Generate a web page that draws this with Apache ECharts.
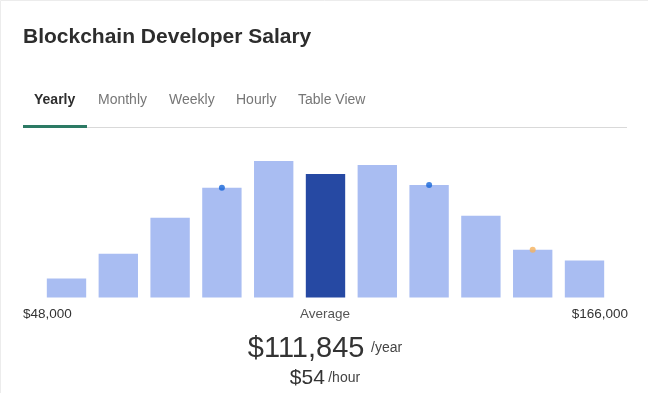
<!DOCTYPE html>
<html>
<head>
<meta charset="utf-8">
<script src="https://cdn.jsdelivr.net/npm/echarts@6/dist/echarts.min.js"></script>
<style>
html,body{margin:0;padding:0;background:#fff;}
#c{width:648px;height:393px;}
</style>
</head>
<body>
<div id="c"></div>
<script>
const categories = ['b1','b2','b3','b4','b5','b6','b7','b8','b9','b10','b11'];
const barValues = [19, 44, 80, 110, 137, 124, 133, 113, 82, 48, 37];
const averageIndex = 5;
const blueMarkers = [null, null, null, 110, null, null, null, 113, null, null, null];
const orangeMarkers = [null, null, null, null, null, null, null, null, null, 48, null];
const tabs = ['Yearly', 'Monthly', 'Weekly', 'Hourly', 'Table View'];
const tabX = [34, 98, 169, 236, 298];
const minLabel = '$48,000';
const maxLabel = '$166,000';
const avgYear = '$111,845';
const avgHour = '$54';

const FONT = '"Liberation Sans", Arial, sans-serif';
const chart = echarts.init(document.getElementById('c'), null, {renderer: 'canvas'});

const graphics = [
  {type: 'rect', shape: {x: 0.5, y: 0.5, width: 660, height: 400}, style: {fill: 'none', stroke: '#ececec', lineWidth: 1}, silent: true},
  {type: 'text', left: 23, top: 27, style: {text: 'Blockchain Developer Salary', font: 'bold 21px ' + FONT, fill: '#2d2d2d'}},
  {type: 'rect', shape: {x: 87, y: 127, width: 540, height: 1}, style: {fill: '#d9d9d9'}},
  {type: 'rect', shape: {x: 23, y: 125, width: 64, height: 3}, style: {fill: '#2c7a64'}},
  {type: 'text', left: 23, top: 307, style: {text: minLabel, font: '13.5px ' + FONT, fill: '#333'}},
  {type: 'text', right: 20, top: 307, style: {text: maxLabel, font: '13.5px ' + FONT, fill: '#333'}},
  {type: 'text', x: 325, y: 307, style: {text: 'Average', font: '13.5px ' + FONT, fill: '#555', align: 'center'}},
  {type: 'text', x: 325, y: 363, style: {
    text: '{a|' + avgYear + '}  {b|/year}', align: 'center', verticalAlign: 'bottom',
    rich: {a: {font: '29px ' + FONT, fill: '#333'}, b: {font: '14px ' + FONT, fill: '#444'}}
  }},
  {type: 'text', x: 325, y: 389, style: {
    text: '{a|' + avgHour + '} {b|/hour}', align: 'center', verticalAlign: 'bottom',
    rich: {a: {font: '21px ' + FONT, fill: '#333'}, b: {font: '14px ' + FONT, fill: '#444'}}
  }}
];
tabs.forEach((t, i) => {
  graphics.push({type: 'text', left: tabX[i], top: 93, style: {
    text: t, font: (i === 0 ? 'bold ' : '') + '14px ' + FONT, fill: i === 0 ? '#2d2d2d' : '#767676'
  }});
});

chart.setOption({
  animation: false,
  backgroundColor: '#fff',
  grid: {left: 40.6, right: 648 - 610.4, top: 148, bottom: 95.5},
  xAxis: {type: 'category', data: categories, show: false},
  yAxis: {type: 'value', min: 0, max: 150, show: false},
  series: [
    {type: 'bar', barCategoryGap: '24%', data: barValues.map((v, i) => ({
      value: v, itemStyle: {color: i === averageIndex ? '#2649a3' : '#a9bdf2'}
    }))},
    {type: 'scatter', symbolSize: 6, data: blueMarkers, itemStyle: {color: '#1565d8'}, z: 5},
    {type: 'scatter', symbolSize: 6, data: orangeMarkers, itemStyle: {color: '#f5b15c'}, z: 5}
  ],
  graphic: graphics
});
</script>
</body>
</html>
